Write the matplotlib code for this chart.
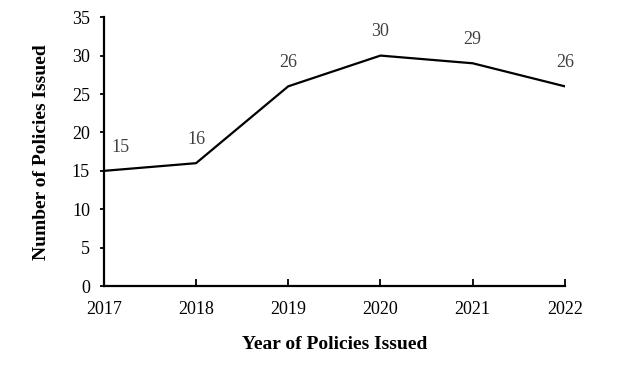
import matplotlib
matplotlib.use("Agg")
import matplotlib.pyplot as plt

plt.rcParams.update({
    'font.family': 'serif',
    'font.serif': ['Liberation Serif', 'DejaVu Serif'],
})

years = [2017, 2018, 2019, 2020, 2021, 2022]
policies = [15, 16, 26, 30, 29, 26]

fig = plt.figure(figsize=(6.18, 3.65), dpi=100)
ax = fig.add_axes([0.168, 0.216, 0.746, 0.737])

ax.plot(years, policies, color="black", lw=1.6)

for i, (x, y) in enumerate(zip(years, policies)):
    dx = 12 if i == 0 else 0
    ax.annotate(str(y), (x, y), xytext=(dx, 17), textcoords="offset points",
                ha="center", va="center", fontsize=13, color="#404040")

ax.set_xlim(2017, 2022)
ax.set_ylim(0, 35)
ax.set_yticks(range(0, 36, 5))
ax.set_xticks(years)

for s in ["top", "right"]:
    ax.spines[s].set_visible(False)
for s in ["left", "bottom"]:
    ax.spines[s].set_linewidth(1.6)

ax.tick_params(axis="x", direction="in", length=5, width=1.3, pad=11, labelsize=13)
ax.tick_params(axis="y", direction="out", length=3, width=1.3, pad=7, labelsize=13)

ax.set_xlabel("Year of Policies Issued", fontsize=14, fontweight="bold", labelpad=13)
ax.set_ylabel("Number of Policies Issued", fontsize=14, fontweight="bold", labelpad=16)

fig.savefig("out.png", dpi=100)
